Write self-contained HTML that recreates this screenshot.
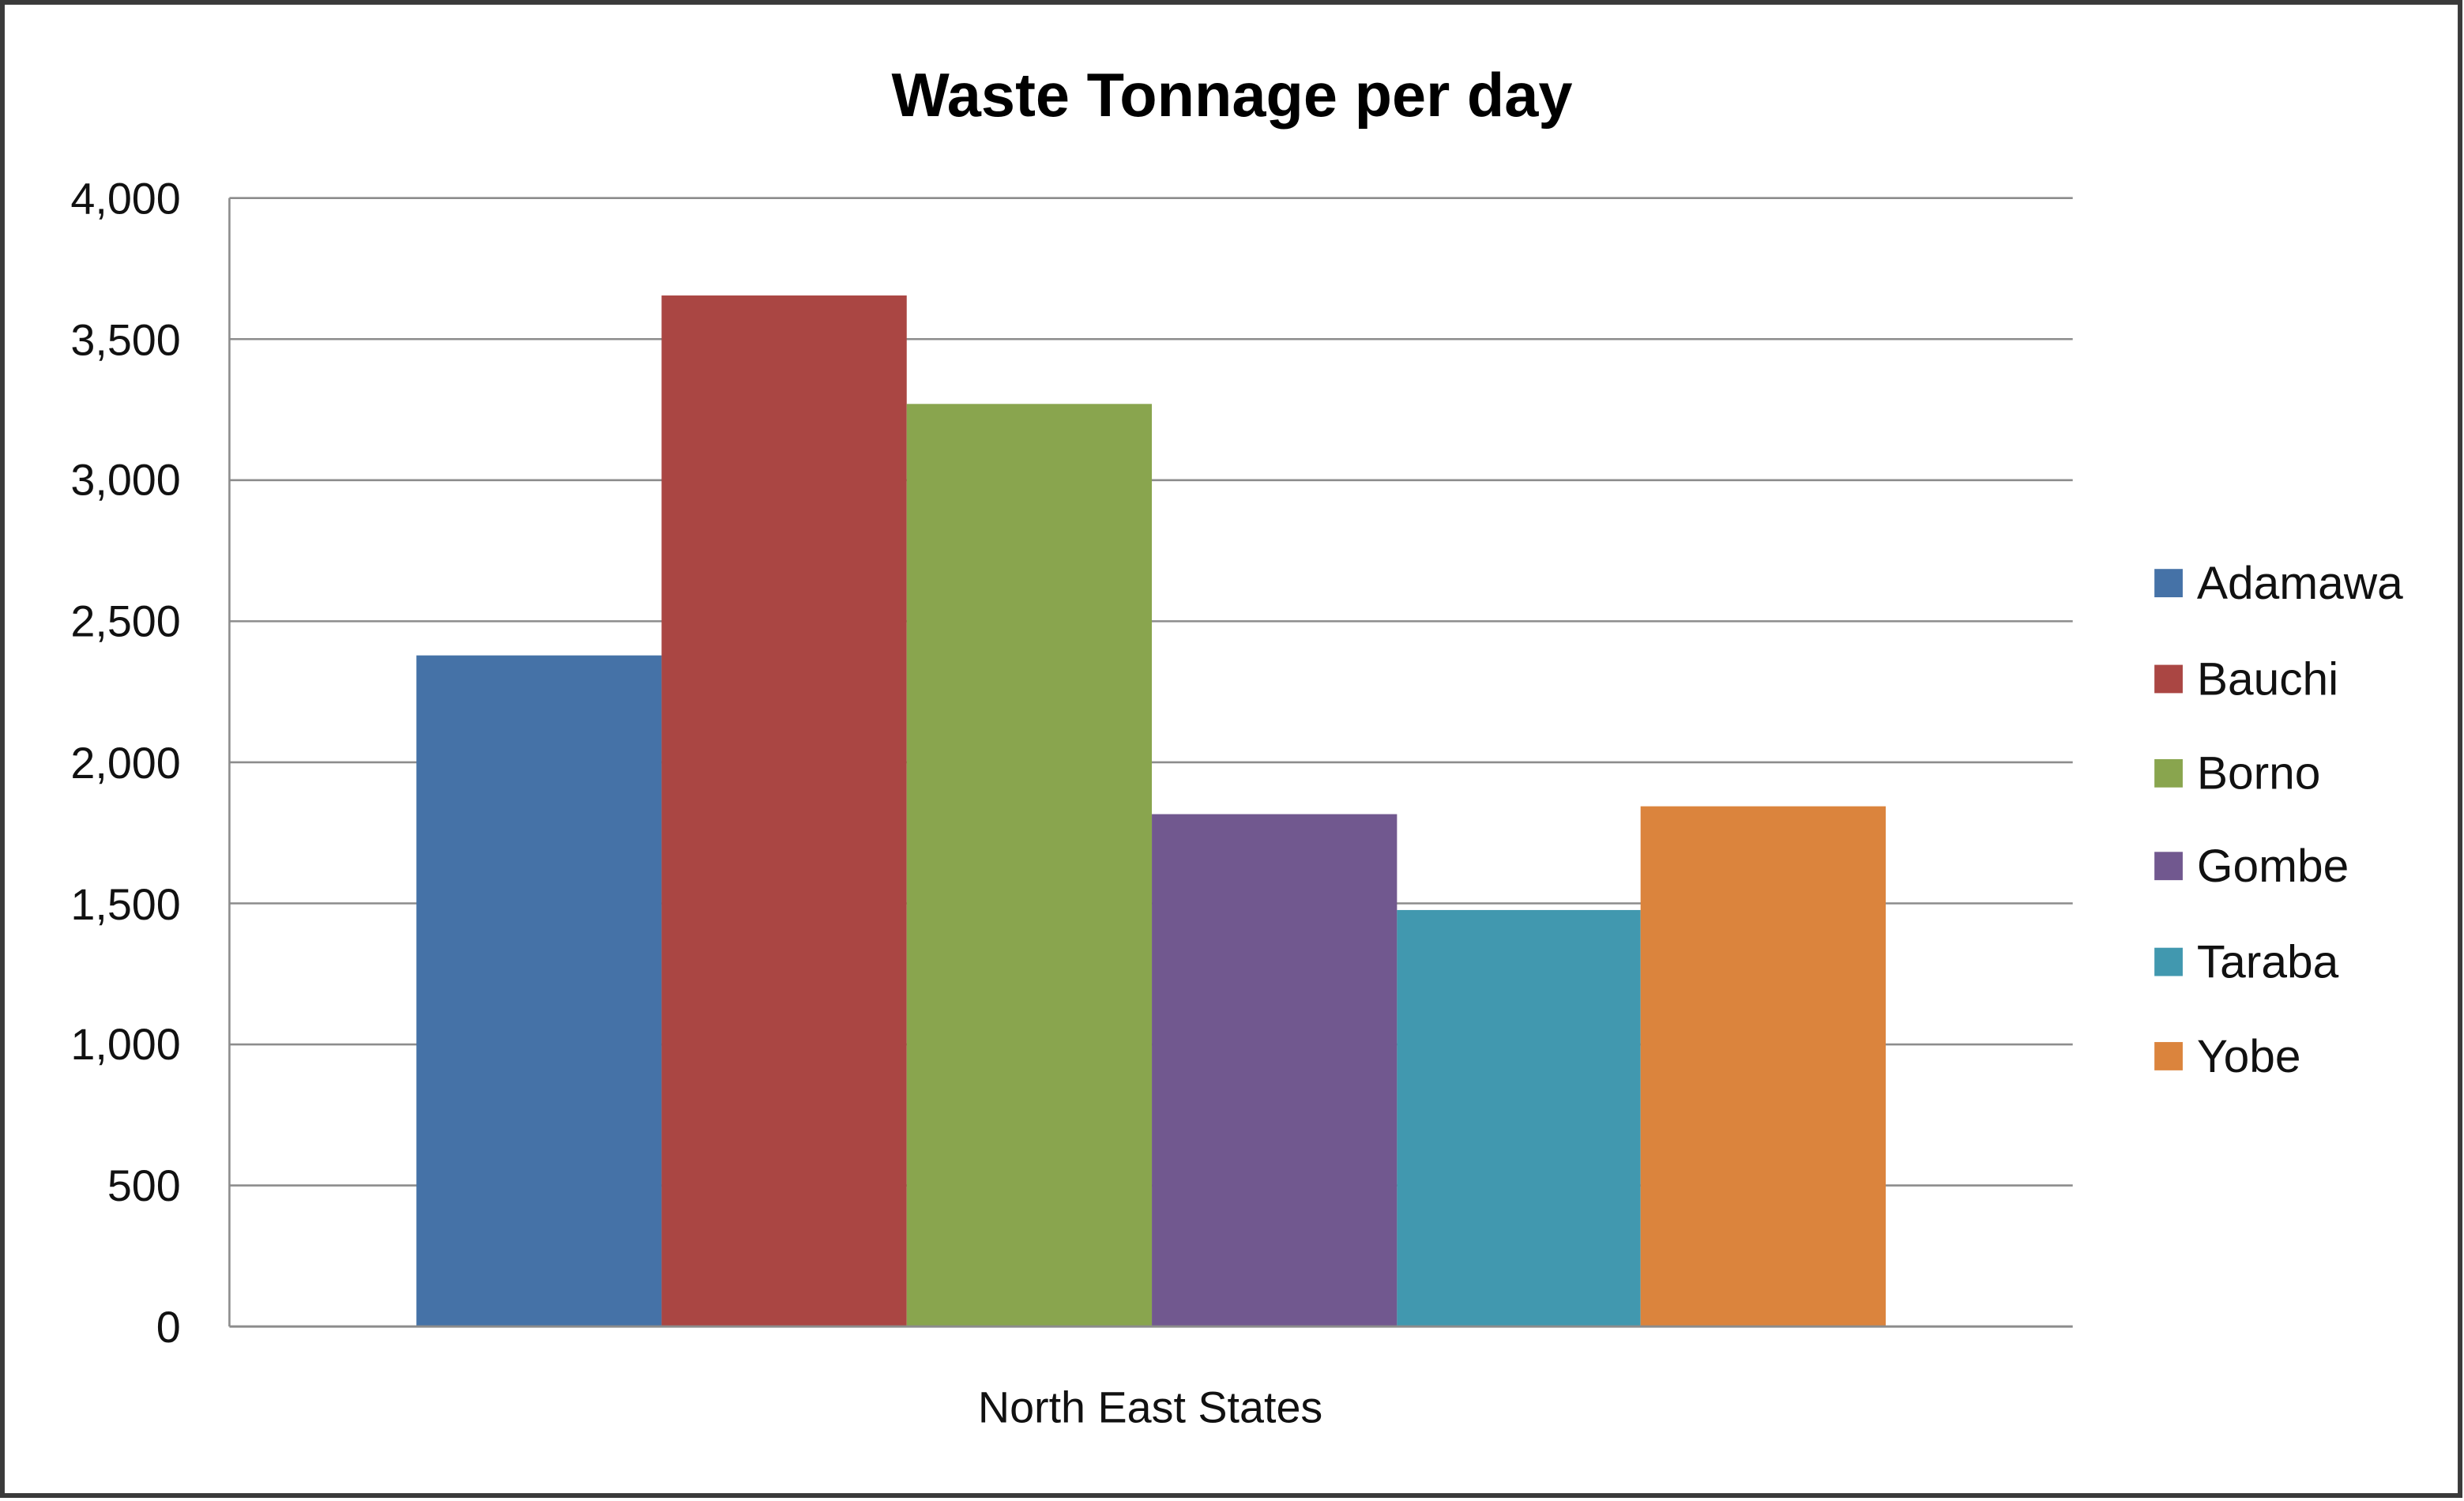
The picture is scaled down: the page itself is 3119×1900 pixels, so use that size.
<!DOCTYPE html>
<html><head><meta charset="utf-8"><style>html,body{margin:0;padding:0;background:#fff}svg{display:block}</style></head>
<body>
<svg width="3119" height="1900" viewBox="0 0 1568 955" preserveAspectRatio="none" xmlns="http://www.w3.org/2000/svg">
<rect x="0" y="0" width="1568" height="955" fill="#fff"/>
<rect x="1.5" y="1.5" width="1564" height="950" fill="none" stroke="#3a3a3a" stroke-width="3"/>
<text x="784" y="74" text-anchor="middle" font-family="Liberation Sans, sans-serif" font-weight="bold" font-size="39">Waste Tonnage per day</text>
<g stroke="#8c8c8c" stroke-width="1.3">
<line x1="146" y1="126" x2="1319" y2="126"/>
<line x1="146" y1="215.75" x2="1319" y2="215.75"/>
<line x1="146" y1="305.5" x2="1319" y2="305.5"/>
<line x1="146" y1="395.25" x2="1319" y2="395.25"/>
<line x1="146" y1="485" x2="1319" y2="485"/>
<line x1="146" y1="574.75" x2="1319" y2="574.75"/>
<line x1="146" y1="664.5" x2="1319" y2="664.5"/>
<line x1="146" y1="754.25" x2="1319" y2="754.25"/>
<line x1="146" y1="126" x2="146" y2="844"/>
</g>
<g font-family="Liberation Sans, sans-serif" font-size="28" text-anchor="end" fill="#111">
<text x="115" y="136">4,000</text>
<text x="115" y="226">3,500</text>
<text x="115" y="315">3,000</text>
<text x="115" y="405">2,500</text>
<text x="115" y="495">2,000</text>
<text x="115" y="585">1,500</text>
<text x="115" y="674">1,000</text>
<text x="115" y="764">500</text>
<text x="115" y="854">0</text>
</g>
<rect x="265" y="417" width="156" height="427" fill="#4572a7"/>
<rect x="421" y="188" width="156" height="656" fill="#aa4643"/>
<rect x="577" y="257" width="156" height="587" fill="#89a54e"/>
<rect x="733" y="518" width="156" height="326" fill="#71588f"/>
<rect x="889" y="579" width="155" height="265" fill="#4198af"/>
<rect x="1044" y="513" width="156" height="331" fill="#db843d"/>
<line x1="146" y1="844" x2="1319" y2="844" stroke="#8c8c8c" stroke-width="1.5"/>
<text x="732" y="905" text-anchor="middle" font-family="Liberation Sans, sans-serif" font-size="28" fill="#111">North East States</text>
<g font-family="Liberation Sans, sans-serif" font-size="29.5" fill="#111">
<rect x="1371" y="362" width="18" height="18" fill="#4572a7"/><text x="1398" y="381">Adamawa</text>
<rect x="1371" y="423" width="18" height="18" fill="#aa4643"/><text x="1398" y="442">Bauchi</text>
<rect x="1371" y="483" width="18" height="18" fill="#89a54e"/><text x="1398" y="502">Borno</text>
<rect x="1371" y="542" width="18" height="18" fill="#71588f"/><text x="1398" y="561">Gombe</text>
<rect x="1371" y="603" width="18" height="18" fill="#4198af"/><text x="1398" y="622">Taraba</text>
<rect x="1371" y="663" width="18" height="18" fill="#db843d"/><text x="1398" y="682">Yobe</text>
</g>
</svg>
</body></html>
